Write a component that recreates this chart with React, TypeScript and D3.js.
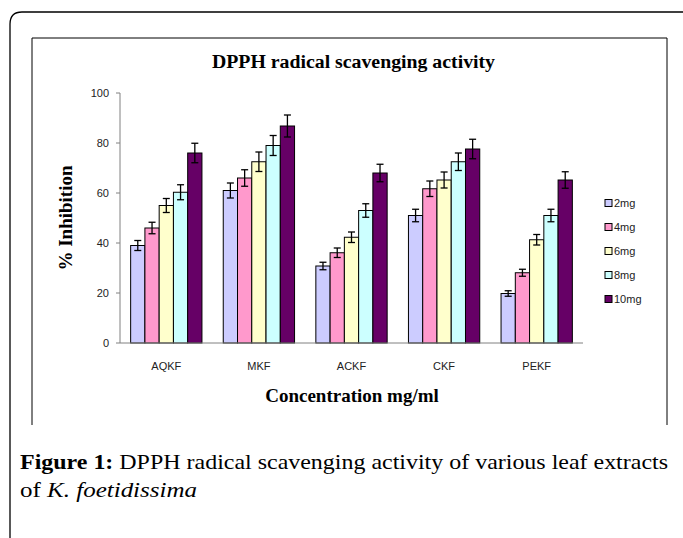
import * as d3 from 'd3';

const categories = ['AQKF', 'MKF', 'ACKF', 'CKF', 'PEKF'];
const doses = ['2mg', '4mg', '6mg', '8mg', '10mg'];
const colors = ['#CCCCFF', '#FF99CC', '#FFFFCC', '#CCFFFF', '#660066'];

// % inhibition per extract, one array per dose
const values2 = [39, 61, 30.8, 51, 19.8];
const values4 = [46, 66, 36.1, 61.7, 28.1];
const values6 = [55, 72.5, 42.3, 65.2, 41.3];
const values8 = [60.3, 79, 53, 72.5, 51];
const values10 = [76, 86.8, 68, 77.6, 65.2];

const err2 = [2, 3, 1.5, 2.5, 1.1];
const err4 = [2.3, 3.3, 1.9, 3.1, 1.4];
const err6 = [2.8, 3.9, 2.1, 3.2, 2.1];
const err8 = [3, 4, 2.7, 3.5, 2.5];
const err10 = [3.9, 4.4, 3.5, 3.9, 3.3];

const yTicks = [0, 20, 40, 60, 80, 100];

const series = [values2, values4, values6, values8, values10];
const errors = [err2, err4, err6, err8, err10];

export default function App() {
  const width = 683;
  const height = 538;
  const plot = { left: 120, right: 583, top: 93, bottom: 343 };

  const x = d3.scaleBand<string>().domain(categories).range([plot.left, plot.right]).paddingInner(0.23).paddingOuter(0.115);
  const xi = d3.scaleBand<string>().domain(doses).range([0, x.bandwidth()]);
  const y = d3.scaleLinear().domain([0, 100]).range([plot.bottom, plot.top]);

  const serif = '"Liberation Serif", "Times New Roman", serif';
  const sans = '"Liberation Sans", Arial, sans-serif';

  return (
    <svg width={width} height={height} style={{ position: 'absolute', left: 0, top: 0, background: '#fff' }}>
      {/* outer frame */}
      <path d={`M10,${height} L10,24 Q10,12 22,12 L${width},12`} fill="none" stroke="#000" strokeWidth={1.3} />
      {/* chart frame */}
      <path d="M32,425 L32,38 L667,38 L667,425" fill="none" stroke="#000" strokeWidth={1} />

      <text x={212} y={68} textLength={283} lengthAdjust="spacingAndGlyphs" fontFamily={serif} fontWeight="bold" fontSize={18}>
        DPPH radical scavenging activity
      </text>

      {/* y axis */}
      <line x1={plot.left} x2={plot.left} y1={plot.top} y2={plot.bottom} stroke="#808080" />
      {yTicks.map(t => (
        <g key={t}>
          <line x1={plot.left - 4} x2={plot.left} y1={y(t)} y2={y(t)} stroke="#808080" />
          <text x={plot.left - 11} y={y(t)} dy="0.35em" textAnchor="end" fontFamily={sans} fontSize={11} fill="#222">
            {t}
          </text>
        </g>
      ))}

      {/* bars */}
      {categories.map((c, ci) => (
        <g key={c} transform={`translate(${x(c)},0)`}>
          {doses.map((d, di) => {
            const v = series[di][ci];
            const e = errors[di][ci];
            const bx = xi(d)!;
            const cx = bx + xi.bandwidth() / 2;
            return (
              <g key={d}>
                <rect x={bx} y={y(v)} width={xi.bandwidth()} height={y(0) - y(v)} fill={colors[di]} stroke="#000" strokeWidth={1} />
                <line x1={cx} x2={cx} y1={y(v + e)} y2={y(v - e)} stroke="#000" strokeWidth={1.3} />
                <line x1={cx - 3.5} x2={cx + 3.5} y1={y(v + e)} y2={y(v + e)} stroke="#000" strokeWidth={1.3} />
                <line x1={cx - 3.5} x2={cx + 3.5} y1={y(v - e)} y2={y(v - e)} stroke="#000" strokeWidth={1.3} />
              </g>
            );
          })}
        </g>
      ))}

      {/* x axis */}
      <line x1={plot.left} x2={plot.right} y1={plot.bottom} y2={plot.bottom} stroke="#808080" />
      {categories.map(c => (
        <text key={c} x={x(c)! + x.bandwidth() / 2} y={370} textAnchor="middle" fontFamily={sans} fontSize={11} fill="#222">
          {c}
        </text>
      ))}

      <text x={352} y={402} textAnchor="middle" fontFamily={serif} fontWeight="bold" fontSize={19}>
        Concentration mg/ml
      </text>
      <text transform="translate(72,218) rotate(-90)" textAnchor="middle" fontFamily={serif} fontWeight="bold" fontSize={19}>
        % Inhibition
      </text>

      {/* legend */}
      {doses.map((d, i) => (
        <g key={d} transform={`translate(605,${203 + i * 24})`}>
          <rect x={0} y={-3.5} width={7} height={7} fill={colors[i]} stroke="#000" strokeWidth={1} />
          <text x={9} y={0} dy="0.35em" fontFamily={sans} fontSize={11} fill="#222">
            {d}
          </text>
        </g>
      ))}

      {/* caption */}
      <text x={20} y={469} textLength={648} lengthAdjust="spacingAndGlyphs" fontFamily={serif} fontSize={21}>
        <tspan fontWeight="bold">Figure 1:</tspan> DPPH radical scavenging activity of various leaf extracts
      </text>
      <text x={20} y={497} textLength={177} lengthAdjust="spacingAndGlyphs" fontFamily={serif} fontSize={21}>
        of <tspan fontStyle="italic">K. foetidissima</tspan>
      </text>
    </svg>
  );
}
